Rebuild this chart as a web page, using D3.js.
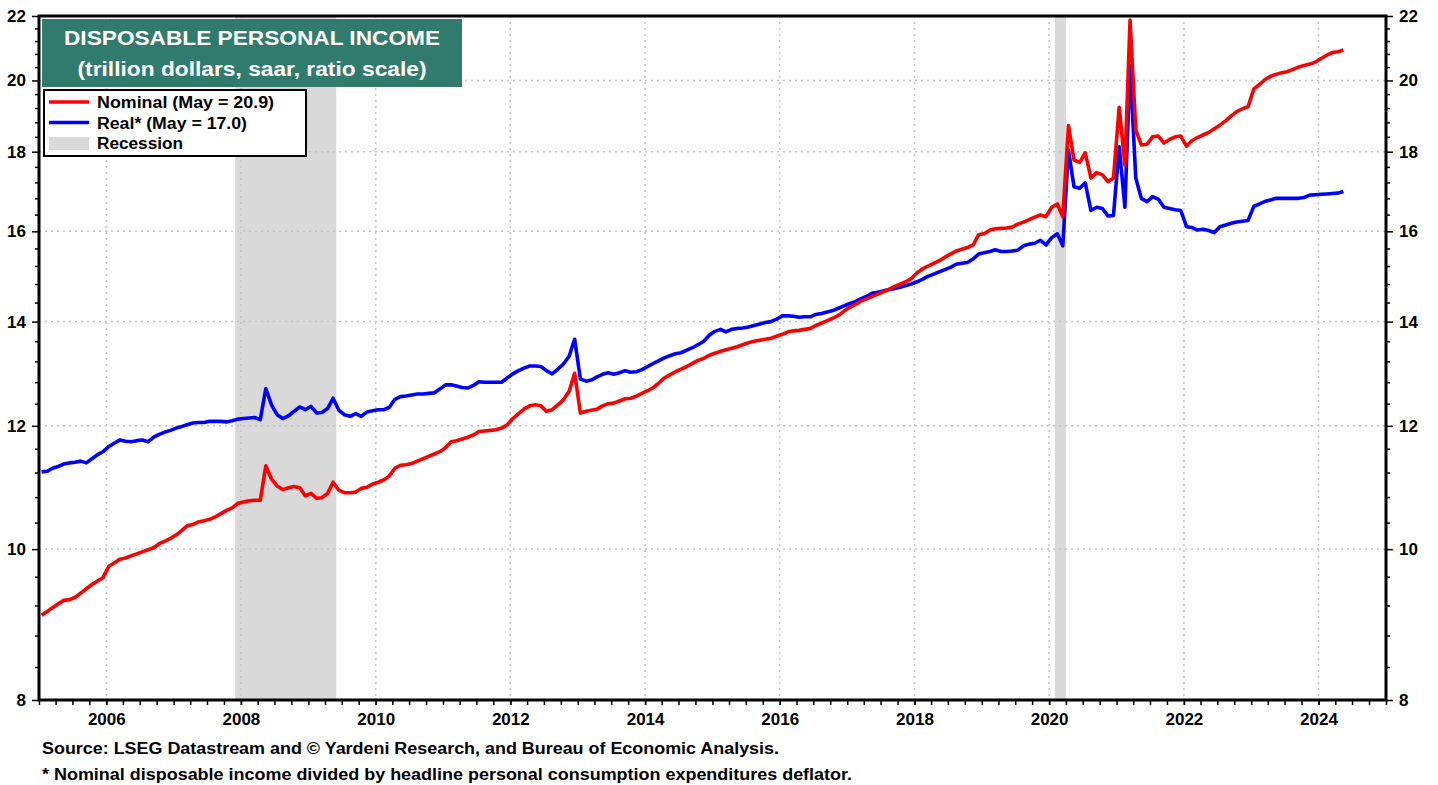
<!DOCTYPE html>
<meta charset="utf-8">
<script src="https://d3js.org/d3.v7.min.js"></script>
<style>
  body { margin: 0; background: #fff; }
  text { font-family: "Liberation Sans", Arial, sans-serif; font-weight: bold; }
</style>
<div id="chart"></div>
<script>
// Monthly values, Jan 2005 - May 2024 (trillion dollars, saar)
var nominal = [
  9.07, 9.12, 9.17, 9.22, 9.27, 9.28, 9.31, 9.37, 9.43, 9.49, 9.54, 9.59,
  9.75, 9.80, 9.85, 9.87, 9.90, 9.93, 9.96, 9.99, 10.02, 10.08, 10.12, 10.16,
  10.21, 10.28, 10.35, 10.37, 10.41, 10.43, 10.45, 10.49, 10.54, 10.59, 10.63, 10.70,
  10.72, 10.74, 10.75, 10.75, 11.31, 11.09, 10.98, 10.92, 10.95, 10.97, 10.95, 10.82,
  10.86, 10.78, 10.79, 10.86, 11.04, 10.91, 10.87, 10.87, 10.88, 10.94, 10.96, 11.01,
  11.04, 11.08, 11.14, 11.27, 11.32, 11.33, 11.35, 11.39, 11.43, 11.47, 11.51, 11.55,
  11.62, 11.72, 11.74, 11.77, 11.80, 11.84, 11.90, 11.91, 11.92, 11.93, 11.96, 12.02,
  12.13, 12.22, 12.30, 12.36, 12.38, 12.36, 12.26, 12.29, 12.38, 12.47, 12.63, 12.97,
  12.23, 12.26, 12.28, 12.30, 12.36, 12.40, 12.41, 12.45, 12.49, 12.50, 12.54, 12.59,
  12.64, 12.70, 12.78, 12.88, 12.94, 13.00, 13.05, 13.10, 13.16, 13.22, 13.26, 13.32,
  13.36, 13.40, 13.43, 13.46, 13.49, 13.53, 13.57, 13.60, 13.62, 13.64, 13.66, 13.70,
  13.74, 13.79, 13.81, 13.82, 13.84, 13.86, 13.92, 13.97, 14.02, 14.07, 14.13, 14.22,
  14.30, 14.36, 14.43, 14.48, 14.53, 14.58, 14.63, 14.68, 14.75, 14.80, 14.85, 14.92,
  15.05, 15.14, 15.20, 15.26, 15.32, 15.40, 15.47, 15.54, 15.58, 15.62, 15.68, 15.92,
  15.95, 16.03, 16.06, 16.07, 16.08, 16.10, 16.17, 16.22, 16.28, 16.34, 16.39, 16.35,
  16.58, 16.66, 16.35, 18.71, 17.78, 17.72, 17.97, 17.31, 17.45, 17.40, 17.22, 17.31,
  19.22, 17.65, 21.87, 18.59, 18.18, 18.20, 18.40, 18.42, 18.23, 18.33, 18.40, 18.42,
  18.15, 18.30, 18.38, 18.45, 18.52, 18.62, 18.72, 18.84, 18.98, 19.10, 19.18, 19.24,
  19.75, 19.88, 20.02, 20.12, 20.18, 20.23, 20.26, 20.33, 20.40, 20.45, 20.49, 20.55,
  20.66, 20.76, 20.84, 20.87, 20.92
];
var real = [
  11.21, 11.22, 11.27, 11.30, 11.34, 11.36, 11.37, 11.39, 11.36, 11.43, 11.50, 11.55,
  11.64, 11.70, 11.75, 11.73, 11.72, 11.74, 11.75, 11.72, 11.80, 11.85, 11.89, 11.92,
  11.96, 11.99, 12.02, 12.05, 12.06, 12.06, 12.08, 12.08, 12.08, 12.07, 12.09, 12.12,
  12.13, 12.14, 12.15, 12.11, 12.68, 12.38, 12.20, 12.13, 12.18, 12.26, 12.34, 12.29,
  12.35, 12.23, 12.24, 12.31, 12.50, 12.28, 12.20, 12.17, 12.22, 12.17, 12.25, 12.27,
  12.29, 12.29, 12.33, 12.48, 12.53, 12.54, 12.56, 12.58, 12.58, 12.59, 12.60, 12.67,
  12.75, 12.75, 12.73, 12.70, 12.69, 12.74, 12.81, 12.80, 12.80, 12.80, 12.80, 12.88,
  12.96, 13.02, 13.07, 13.11, 13.11, 13.10, 13.02, 12.96, 13.05, 13.15, 13.30, 13.64,
  12.86, 12.82, 12.84, 12.90, 12.95, 12.98, 12.95, 12.98, 13.02, 12.99, 13.00, 13.04,
  13.10, 13.16, 13.21, 13.27, 13.31, 13.35, 13.37, 13.42, 13.47, 13.53, 13.60, 13.72,
  13.80, 13.84, 13.79, 13.84, 13.86, 13.87, 13.89, 13.92, 13.95, 13.98, 14.00, 14.05,
  14.12, 14.12, 14.11, 14.09, 14.10, 14.10, 14.15, 14.17, 14.20, 14.23, 14.28, 14.33,
  14.38, 14.42, 14.48, 14.53, 14.60, 14.62, 14.65, 14.68, 14.70, 14.73, 14.77, 14.80,
  14.85, 14.91, 14.97, 15.02, 15.07, 15.12, 15.17, 15.24, 15.26, 15.28, 15.36, 15.47,
  15.50, 15.53, 15.57, 15.53, 15.53, 15.54, 15.56, 15.66, 15.70, 15.72, 15.79, 15.68,
  15.85, 15.94, 15.66, 18.04, 17.09, 17.05, 17.19, 16.50, 16.58, 16.55, 16.37, 16.38,
  18.13, 16.58, 20.44, 17.31, 16.80, 16.72, 16.84, 16.78, 16.58, 16.55, 16.52, 16.50,
  16.11, 16.09, 16.03, 16.05, 16.02, 15.97, 16.11, 16.15, 16.19, 16.22, 16.24, 16.26,
  16.60, 16.66, 16.72, 16.76, 16.80, 16.80, 16.80, 16.80, 16.80, 16.82, 16.88, 16.89,
  16.90, 16.91, 16.92, 16.93, 16.97
];
var yTickValues = [8, 10, 12, 14, 16, 18, 20, 22];
var xTickYears = [2006, 2008, 2010, 2012, 2014, 2016, 2018, 2020, 2022, 2024];
var recessions = [["2007-12-01", "2009-06-01"], ["2020-02-01", "2020-04-01"]];
var legendItems = ["Nominal (May = 20.9)", "Real* (May = 17.0)", "Recession"];
var titleLines = ["DISPOSABLE PERSONAL INCOME", "(trillion dollars, saar, ratio scale)"];
var notes = [
  "Source: LSEG Datastream and \u00a9 Yardeni Research, and Bureau of Economic Analysis.",
  "* Nominal disposable income divided by headline personal consumption expenditures deflator."
];

// one date per month, plotted mid-month
var months = d3.timeMonth.range(new Date(2005, 0, 1), new Date(2024, 5, 1))
  .map(d => new Date(d.getFullYear(), d.getMonth(), 15));

var W = 1438, H = 785;
var m_left = 39, m_right = 1386, m_top = 16, m_bottom = 700;

var svg = d3.select("#chart").append("svg")
  .attr("width", W).attr("height", H)
  .style("display", "block");
svg.append("rect").attr("width", W).attr("height", H).attr("fill", "#fff");

var x = d3.scaleTime()
  .domain([new Date(2005, 0, 1), new Date(2025, 0, 1)])
  .range([m_left, m_right]);
var y = d3.scaleLog()
  .domain([8, 22])
  .range([m_bottom, m_top]);

// recession bands
svg.selectAll(".rec").data(recessions).enter().append("rect")
  .attr("x", d => x(new Date(d[0])))
  .attr("width", d => x(new Date(d[1])) - x(new Date(d[0])))
  .attr("y", m_top).attr("height", m_bottom - m_top)
  .attr("fill", "#d9d9d9");

// dotted grid
var grid = svg.append("g")
  .attr("stroke", "#c4c4c4").attr("stroke-width", 1.5)
  .attr("stroke-dasharray", "2,4");
grid.selectAll(".gy").data(yTickValues.slice(1, -1)).enter().append("line")
  .attr("x1", m_left).attr("x2", m_right)
  .attr("y1", d => y(d)).attr("y2", d => y(d));
grid.selectAll(".gx").data(xTickYears).enter().append("line")
  .attr("y1", m_top).attr("y2", m_bottom)
  .attr("x1", d => x(new Date(d, 0, 1))).attr("x2", d => x(new Date(d, 0, 1)));

// lines
svg.append("defs").append("clipPath").attr("id", "plot_clip")
  .append("rect").attr("x", m_left).attr("y", m_top)
  .attr("width", m_right - m_left).attr("height", m_bottom - m_top);
var plot = svg.append("g").attr("clip-path", "url(#plot_clip)");

var line = d3.line()
  .x((d, i) => x(months[i]))
  .y(d => y(d));
plot.append("path").datum(real)
  .attr("fill", "none").attr("stroke", "#0000ff")
  .attr("stroke-width", 3.6).attr("stroke-linejoin", "round")
  .attr("d", line);
plot.append("path").datum(nominal)
  .attr("fill", "none").attr("stroke", "#ff0000")
  .attr("stroke-width", 3.6).attr("stroke-linejoin", "round")
  .attr("d", line);

// axes
var minorY = d3.range(8, 22.01, 0.4).filter(v => yTickValues.indexOf(Math.round(v * 10) / 10) < 0);

function styleAxis(g) {
  g.select(".domain").remove();
  g.selectAll("line").attr("stroke", "#000").attr("stroke-width", 1.5);
  g.selectAll("text").attr("fill", "#000").style("font-size", "17px");
}

svg.append("g").attr("transform", "translate(" + m_left + ",0)")
  .call(d3.axisLeft(y).tickValues(yTickValues).tickFormat(d3.format("d")).tickSize(7).tickPadding(6))
  .call(styleAxis);
svg.append("g").attr("transform", "translate(" + m_right + ",0)")
  .call(d3.axisRight(y).tickValues(yTickValues).tickFormat(d3.format("d")).tickSize(7).tickPadding(6))
  .call(styleAxis);
svg.append("g").attr("transform", "translate(" + m_left + ",0)")
  .call(d3.axisLeft(y).tickValues(minorY).tickFormat("").tickSize(4))
  .call(styleAxis);
svg.append("g").attr("transform", "translate(" + m_right + ",0)")
  .call(d3.axisRight(y).tickValues(minorY).tickFormat("").tickSize(4))
  .call(styleAxis);

var quarters = d3.timeMonth.every(3).range(new Date(2005, 0, 1), new Date(2025, 0, 2));
svg.append("g").attr("transform", "translate(0," + m_bottom + ")")
  .call(d3.axisBottom(x).tickValues(quarters).tickFormat("").tickSize(5))
  .call(styleAxis);
svg.append("g").attr("transform", "translate(0," + m_bottom + ")")
  .call(d3.axisBottom(x).tickValues(xTickYears.map(v => new Date(v, 0, 1)))
    .tickFormat(d3.timeFormat("%Y")).tickSize(5).tickPadding(8))
  .call(styleAxis);

// frame
svg.append("rect")
  .attr("x", m_left).attr("y", m_top)
  .attr("width", m_right - m_left).attr("height", m_bottom - m_top)
  .attr("fill", "none").attr("stroke", "#000").attr("stroke-width", 3);

// title box
svg.append("rect")
  .attr("x", 42).attr("y", 19).attr("width", 420).attr("height", 68)
  .attr("fill", "#317b6e");
var titleWidths = [376, 349];
svg.selectAll(".title").data(titleLines).enter().append("text")
  .attr("x", 252).attr("y", (d, i) => 45 + i * 31)
  .attr("text-anchor", "middle").attr("fill", "#fff")
  .attr("textLength", (d, i) => titleWidths[i]).attr("lengthAdjust", "spacingAndGlyphs")
  .style("font-size", "21px")
  .text(d => d);

// legend
var legend = svg.append("g");
legend.append("rect")
  .attr("x", 44).attr("y", 90).attr("width", 262).attr("height", 66)
  .attr("fill", "#fff").attr("stroke", "#000").attr("stroke-width", 2);
var swatchColors = ["#ff0000", "#0000ff"];
legend.selectAll(".sw").data(swatchColors).enter().append("line")
  .attr("x1", 49).attr("x2", 89)
  .attr("y1", (d, i) => 102 + i * 20.5).attr("y2", (d, i) => 102 + i * 20.5)
  .attr("stroke", d => d).attr("stroke-width", 3.6);
legend.append("rect")
  .attr("x", 49).attr("y", 137).attr("width", 40).attr("height", 13)
  .attr("fill", "#d9d9d9");
var legendWidths = [177, 150, 86];
legend.selectAll(".lt").data(legendItems).enter().append("text")
  .attr("x", 97).attr("y", (d, i) => 108 + i * 20.5)
  .attr("fill", "#000").style("font-size", "16px")
  .attr("textLength", (d, i) => legendWidths[i]).attr("lengthAdjust", "spacingAndGlyphs")
  .text(d => d);

// notes
var noteWidths = [737, 810];
svg.selectAll(".note").data(notes).enter().append("text")
  .attr("x", 42).attr("y", (d, i) => 754 + i * 26)
  .attr("fill", "#000").style("font-size", "16px")
  .attr("textLength", (d, i) => noteWidths[i]).attr("lengthAdjust", "spacingAndGlyphs")
  .text(d => d);
</script>
